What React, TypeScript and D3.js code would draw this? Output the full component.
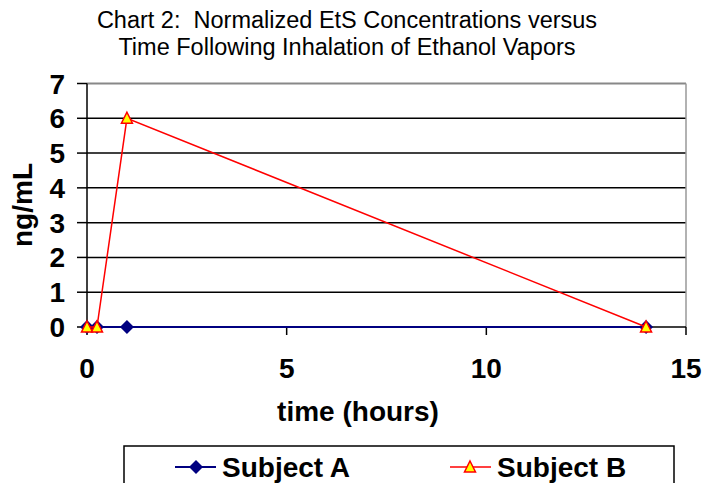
import React from "react";
import * as d3 from "d3";

// chart data
const timeA = [0, 0.25, 1, 14];
const valuesA = [0, 0, 0, 0];
const timeB = [0, 0.25, 1, 14];
const valuesB = [0, 0, 6, 0];
const xTicks = [0, 5, 10, 15];
const yTicks = [0, 1, 2, 3, 4, 5, 6, 7];
const seriesNames = ["Subject A", "Subject B"];

const W = 704;
const H = 483;
const left = 87;
const right = 686;
const top = 83.5;
const bottom = 327;
const font = "Arial, 'Liberation Sans', sans-serif";

const App = () => {
  const x = d3.scaleLinear().domain([0, 15]).range([left, right]);
  const y = d3.scaleLinear().domain([0, 7]).range([bottom, top]);

  const line = d3
    .line<[number, number]>()
    .x((d) => x(d[0]))
    .y((d) => y(d[1]));

  const ptsA: [number, number][] = timeA.map((t, i) => [t, valuesA[i]]);
  const ptsB: [number, number][] = timeB.map((t, i) => [t, valuesB[i]]);

  // markers
  const diamond = (cx: number, cy: number) =>
    `M${cx},${cy - 7}L${cx + 7},${cy}L${cx},${cy + 7}L${cx - 7},${cy}Z`;
  const triangle = (cx: number, cy: number) =>
    `M${cx},${cy - 6}L${cx + 5.5},${cy + 5}L${cx - 5.5},${cy + 5}Z`;

  return (
    <svg
      width={W}
      height={H}
      style={{ position: "absolute", left: 0, top: 0, background: "#fff" }}
      fontFamily={font}
    >
      {/* title */}
      <text x={347} y={28} textAnchor="middle" fontSize={23.5}>
        Chart 2:{"\u00a0\u00a0"}Normalized EtS Concentrations versus
      </text>
      <text x={347} y={55} textAnchor="middle" fontSize={23.5}>
        Time Following Inhalation of Ethanol Vapors
      </text>

      {/* grid lines */}
      {yTicks.slice(1, -1).map((v) => (
        <line key={v} x1={left} x2={right} y1={y(v)} y2={y(v)} stroke="#000" strokeWidth={1.5} />
      ))}
      {/* plot border top/right */}
      <line x1={left} x2={right} y1={y(7)} y2={y(7)} stroke="#888" strokeWidth={2} />
      <line x1={right} x2={right} y1={y(7)} y2={bottom} stroke="#999" strokeWidth={1.5} />

      {/* axes */}
      <line x1={left} x2={left} y1={top} y2={bottom + 6} stroke="#000" strokeWidth={1.5} />
      <line x1={left} x2={right} y1={bottom} y2={bottom} stroke="#000" strokeWidth={1.5} />
      {yTicks.map((v) => (
        <g key={v}>
          <line x1={left - 10} x2={left} y1={y(v)} y2={y(v)} stroke="#000" strokeWidth={1.5} />
          <text x={65} y={y(v) + 10} textAnchor="end" fontSize={28} fontWeight="bold">
            {v}
          </text>
        </g>
      ))}
      {xTicks.map((v) => (
        <g key={v}>
          <line x1={x(v)} x2={x(v)} y1={bottom} y2={bottom + 8} stroke="#000" strokeWidth={1.5} />
          <text x={x(v)} y={378} textAnchor="middle" fontSize={28} fontWeight="bold">
            {v}
          </text>
        </g>
      ))}

      {/* axis titles */}
      <text x={358} y={421} textAnchor="middle" fontSize={28} fontWeight="bold">
        time (hours)
      </text>
      <text
        transform={`translate(32,205) rotate(-90)`}
        textAnchor="middle"
        fontSize={28}
        fontWeight="bold"
      >
        ng/mL
      </text>

      {/* series A */}
      <path d={line(ptsA)!} fill="none" stroke="#000080" strokeWidth={2} />
      {ptsA.map((p, i) => (
        <path key={i} d={diamond(x(p[0]), y(p[1]))} fill="#000080" />
      ))}
      {/* series B */}
      <path d={line(ptsB)!} fill="none" stroke="#ff0000" strokeWidth={1.5} />
      {ptsB.map((p, i) => (
        <path key={i} d={triangle(x(p[0]), y(p[1]))} fill="#ffff00" stroke="#ff0000" strokeWidth={1.5} />
      ))}

      {/* legend */}
      <rect x={124} y={446} width={550} height={60} fill="#fff" stroke="#000" strokeWidth={1.5} />
      <line x1={175} x2={216} y1={467} y2={467} stroke="#000080" strokeWidth={2} />
      <path d={diamond(196, 467)} fill="#000080" />
      <text x={222} y={477} fontSize={28} fontWeight="bold">
        {seriesNames[0]}
      </text>
      <line x1={450} x2={491} y1={467} y2={467} stroke="#ff0000" strokeWidth={1.5} />
      <path d={triangle(470, 467)} fill="#ffff00" stroke="#ff0000" strokeWidth={1.5} />
      <text x={497} y={477} fontSize={28} fontWeight="bold">
        {seriesNames[1]}
      </text>
    </svg>
  );
};

export default App;
